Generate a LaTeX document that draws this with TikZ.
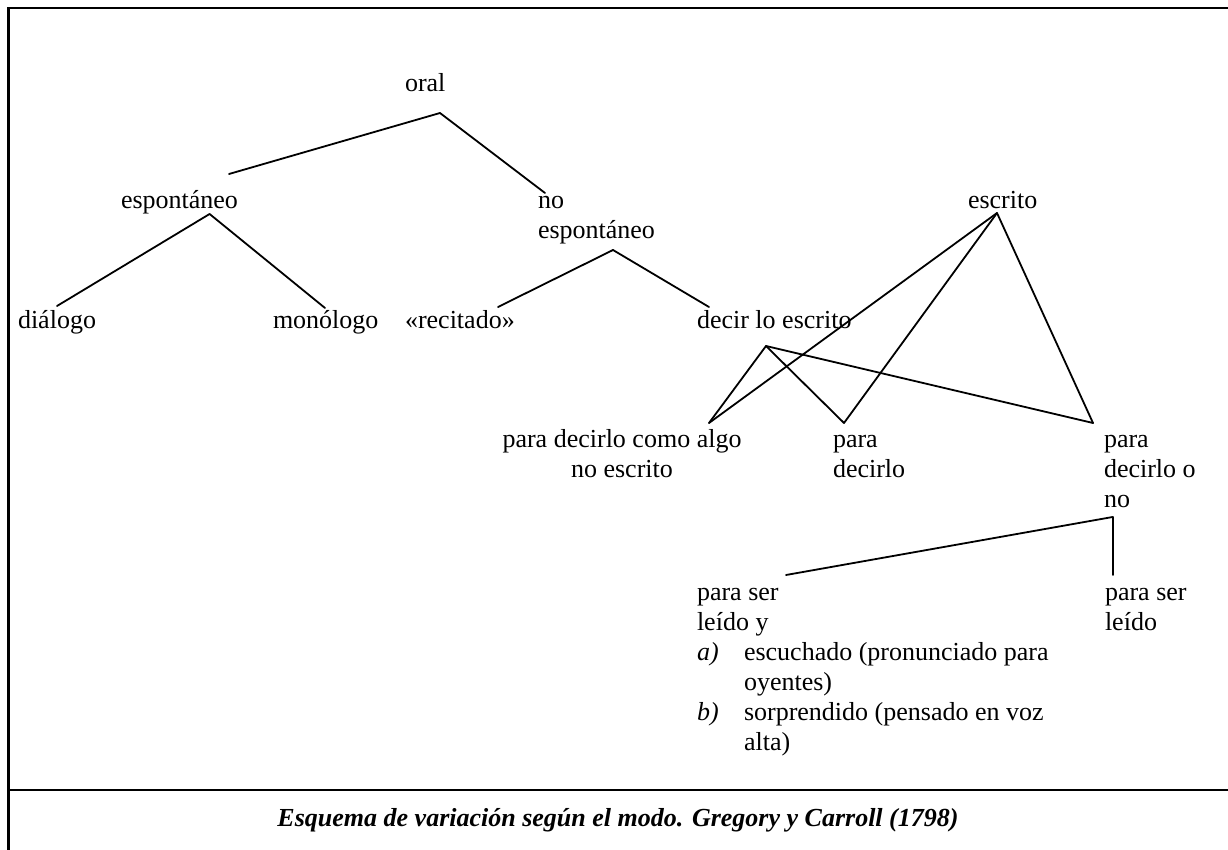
\documentclass[tikz,border=0pt]{standalone}
\usepackage{fontspec}
\setmainfont{Liberation Serif}
\tikzset{
  branch/.style={line width=1.8pt, line cap=round},
  framerule/.style={line width=2.6pt},
  lbl/.style={inner sep=0pt, outer sep=0pt, anchor=base west, font=\fontsize{26pt}{30pt}\selectfont},
  clbl/.style={lbl, anchor=base},
}
\begin{document}
\begin{tikzpicture}[x=1pt,y=-1pt]
\useasboundingbox (0,0) rectangle (1228,850);
% frame
\coordinate (tl) at (8.5,8);
\coordinate (tr) at (1228,8);
\coordinate (bl) at (8.5,850);
\coordinate (dl) at (8.5,790);
\coordinate (dr) at (1228,790);
\draw[framerule] (tr) -- (tl) -- (bl);
\draw[framerule] (dl) -- (dr);

% labels
\node[lbl] (oral) at (405,92) {oral};
\node[lbl] (esp) at (121,209) {espontáneo};
\node[lbl] (noesp) at (538,209) {\begin{tabular}[t]{@{}l@{}}no\\espontáneo\end{tabular}};
\node[lbl] (escrito) at (968,209) {escrito};
\node[lbl] (dialogo) at (18,328) {diálogo};
\node[lbl] (monologo) at (273,328) {monólogo};
\node[lbl] (recitado) at (405,328) {«recitado»};
\node[lbl] (decir) at (697,328) {decir lo escrito};
\node[clbl] (como) at (622,447) {\begin{tabular}[t]{@{}c@{}}para decirlo como algo\\no escrito\end{tabular}};
\node[lbl] (pd) at (833,447) {\begin{tabular}[t]{@{}l@{}}para\\decirlo\end{tabular}};
\node[lbl] (pdo) at (1104,447) {\begin{tabular}[t]{@{}l@{}}para\\decirlo o\\no\end{tabular}};
\node[lbl] (psly) at (697,600) {\begin{tabular}[t]{@{}p{47pt}@{}l@{}}
\multicolumn{2}{@{}l@{}}{para ser}\\
\multicolumn{2}{@{}l@{}}{leído y}\\
\textit{a)} & escuchado (pronunciado para\\
 & oyentes)\\
\textit{b)} & sorprendido (pensado en voz\\
 & alta)
\end{tabular}};
\node[lbl] (psl) at (1105,600) {\begin{tabular}[t]{@{}l@{}}para ser\\leído\end{tabular}};
\node[clbl, font=\fontsize{26pt}{30pt}\selectfont\bfseries\itshape] (caption) at (618,826) {Esquema de variación según el modo. Gregory y Carroll (1798)};

% attachment points
\coordinate (oral-b) at (440,113);
\coordinate (esp-t) at (229,174);
\coordinate (esp-b) at (209.6,214);
\coordinate (noesp-t) at (545,193);
\coordinate (noesp-b) at (613,250);
\coordinate (dia-t) at (57,306);
\coordinate (mono-t) at (325,308);
\coordinate (rec-t) at (498,307);
\coordinate (decir-t) at (709,307);
\coordinate (decir-b) at (766,346);
\coordinate (escrito-b) at (997,213);
\coordinate (como-t) at (709,423);
\coordinate (pd-t) at (844,423);
\coordinate (pdo-t) at (1093,423);
\coordinate (pdo-b) at (1112.6,517);
\coordinate (psly-t) at (786,575);
\coordinate (psl-t) at (1112.6,575);

% connectors
\draw[branch] (oral-b) -- (esp-t);
\draw[branch] (oral-b) -- (noesp-t);
\draw[branch] (esp-b) -- (dia-t);
\draw[branch] (esp-b) -- (mono-t);
\draw[branch] (noesp-b) -- (rec-t);
\draw[branch] (noesp-b) -- (decir-t);
\draw[branch] (decir-b) -- (como-t);
\draw[branch] (decir-b) -- (pd-t);
\draw[branch] (decir-b) -- (pdo-t);
\draw[branch] (escrito-b) -- (como-t);
\draw[branch] (escrito-b) -- (pd-t);
\draw[branch] (escrito-b) -- (pdo-t);
\draw[branch] (pdo-b) -- (psly-t);
\draw[branch] (pdo-b) -- (psl-t);
\end{tikzpicture}
\end{document}
